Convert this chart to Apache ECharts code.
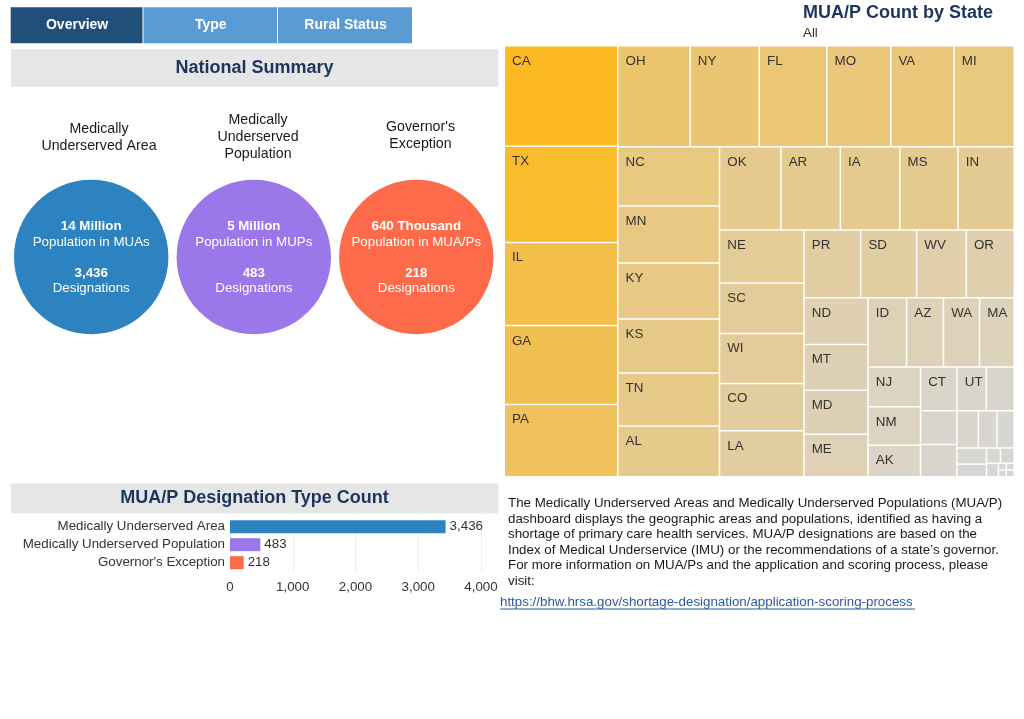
<!DOCTYPE html>
<html><head><meta charset="utf-8">
<script src="https://cdn.jsdelivr.net/npm/echarts@6/dist/echarts.min.js"></script>
<style>html,body{margin:0;padding:0;background:#fff}#c{width:1024px;height:719px}</style>
</head><body><div id="c"></div>
<script>
// ---------- data ----------
const tabs = ['Overview', 'Type', 'Rural Status'];
const summaryTitles = ['Medically\nUnderserved Area', 'Medically\nUnderserved\nPopulation', "Governor's\nException"];
const populationText = ['14 Million', '5 Million', '640 Thousand'];
const populationLabels = ['Population in MUAs', 'Population in MUPs', 'Population in MUA/Ps'];
const typeCategories = ['Medically Underserved Area', 'Medically Underserved Population', "Governor's Exception"];
const typeCounts = [3436, 483, 218];
const valueTicks = [0, 1000, 2000, 3000, 4000];
const stateNames = ['CA','TX','IL','GA','PA','OH','NY','FL','MO','VA','MI','NC','MN','KY','KS','TN','AL','OK','IA','AR','MS','IN','NE','SC','WI','CO','LA','PR','SD','WV','OR','ND','MT','MD','ME','ID','AZ','WA','MA','NJ','NM','AK','CT','UT',
  'HI','NV','NH','VT','WY','DE','DC','RI','GU','VI','MP','AS','FM','MH','PW'];
const stateCounts = [214,205,177,168,154,137,131,128,121,120,114,113,109,107,103,101,97,96,93,93,91,88,84,80,79,75,73,72,71,63,61,56,55,53,51,50,48,47,45,39,38,31,30,24,
  23,23,22,15,13,12,9,7,4,4,3,1,1,1,1];
const labeledStates = stateNames.slice(0, 44);
const descriptionLines = [
  'The Medically Underserved Areas and Medically Underserved Populations (MUA/P)',
  'dashboard displays the geographic areas and populations, identified as having a',
  'shortage of primary care health services. MUA/P designations are based on the',
  'Index of Medical Underservice (IMU) or the recommendations of a state\u2019s governor.',
  'For more information on MUA/Ps and the application and scoring process, please',
  'visit:'
];
const linkText = 'https://bhw.hrsa.gov/shortage-designation/application-scoring-process';

// ---------- styles ----------
const FONT = '"Liberation Sans", Arial, Helvetica, sans-serif';
const NAVY = '#1c355e';
const FS = 13.33;
const typeColors = ['#2d83c0', '#9b77e9', '#fd6b4a'];
const tabColors = ['#204f7a', '#5b9bd5', '#5b9bd5'];
const tabEdges = [10.7, 143.5, 278, 413];
const circleX = [91.2, 253.8, 416.3];
const titleX = [99, 258, 420.5];
const titleY = [138, 137, 136];
const treemapColors = ['#d7d6d4','#dad5ca','#ded0b3','#e3cc98','#e8c884','#ebc670','#f1c157','#f5bd42','#fdba22'];

const g = [];
// tabs
tabs.forEach((t, i) => {
  g.push({type:'rect', shape:{x:tabEdges[i], y:7.3, width:tabEdges[i+1]-tabEdges[i]-1, height:36}, style:{fill:tabColors[i]}});
  g.push({type:'text', style:{text:t, x:(tabEdges[i]+tabEdges[i+1])/2, y:25.5, textAlign:'center', textVerticalAlign:'middle', fill:'#fff', font:'bold 14px ' + FONT}});
});
// headers
g.push({type:'rect', shape:{x:11, y:49.3, width:487.5, height:37.4}, style:{fill:'#e6e6e6'}});
g.push({type:'text', style:{text:'National Summary', x:254.5, y:68.5, textAlign:'center', textVerticalAlign:'middle', fill:NAVY, font:'bold 18px ' + FONT}});
g.push({type:'rect', shape:{x:11, y:483.5, width:487.5, height:30}, style:{fill:'#e6e6e6'}});
g.push({type:'text', style:{text:'MUA/P Designation Type Count', x:254.5, y:498.5, textAlign:'center', textVerticalAlign:'middle', fill:NAVY, font:'bold 18px ' + FONT}});
g.push({type:'text', style:{text:'MUA/P Count by State', x:803, y:13.5, textAlign:'left', textVerticalAlign:'middle', fill:NAVY, font:'bold 18px ' + FONT}});
g.push({type:'text', style:{text:'All', x:803, y:33.5, textAlign:'left', textVerticalAlign:'middle', fill:'#333', font:FS + 'px ' + FONT}});
// summary circles
summaryTitles.forEach((t, i) => {
  g.push({type:'text', style:{text:t, x:titleX[i], y:titleY[i], textAlign:'center', textVerticalAlign:'middle', fill:'#1a1a1a', font:'14.2px ' + FONT, lineHeight:17}});
  g.push({type:'circle', shape:{cx:circleX[i], cy:257, r:77.2}, style:{fill:typeColors[i]}});
  g.push({type:'text', style:{text:populationText[i], x:circleX[i], y:226.7, textAlign:'center', textVerticalAlign:'middle', fill:'#fff', font:'bold ' + FS + 'px ' + FONT}});
  g.push({type:'text', style:{text:populationLabels[i], x:circleX[i], y:242, textAlign:'center', textVerticalAlign:'middle', fill:'#fff', font:FS + 'px ' + FONT}});
  g.push({type:'text', style:{text:typeCounts[i].toLocaleString('en-US'), x:circleX[i], y:273.3, textAlign:'center', textVerticalAlign:'middle', fill:'#fff', font:'bold ' + FS + 'px ' + FONT}});
  g.push({type:'text', style:{text:'Designations', x:circleX[i], y:288.5, textAlign:'center', textVerticalAlign:'middle', fill:'#fff', font:FS + 'px ' + FONT}});
});
// description
g.push({type:'text', style:{text:descriptionLines.join('\n'), x:508, y:495.5, textAlign:'left', textVerticalAlign:'top', fill:'#1a1a1a', font:FS + 'px ' + FONT, lineHeight:15.6}});
g.push({type:'text', style:{text:linkText, x:500, y:602, textAlign:'left', textVerticalAlign:'middle', fill:'#2c5aa0', font:FS + 'px ' + FONT}});
g.push({type:'line', shape:{x1:500, y1:609, x2:915, y2:609}, style:{stroke:'#2c5aa0', lineWidth:1}});

const chart = echarts.init(document.getElementById('c'), null, {renderer:'canvas'});
chart.setOption({
  animation:false,
  textStyle:{fontFamily:FONT},
  graphic:{elements:g},
  grid:{left:230, top:517.7, width:251, height:54, containLabel:false},
  xAxis:{type:'value', min:valueTicks[0], max:valueTicks[valueTicks.length-1], interval:valueTicks[1]-valueTicks[0],
    axisLine:{show:false}, axisTick:{show:false},
    splitLine:{show:true, lineStyle:{color:'#eeeeee', width:1}},
    axisLabel:{color:'#333', fontSize:FS, margin:9, formatter:v => v.toLocaleString('en-US')}},
  yAxis:{type:'category', data:typeCategories, inverse:true,
    axisLine:{show:false}, axisTick:{show:false},
    axisLabel:{color:'#333', fontSize:FS, margin:5}},
  series:[
    {type:'bar', barWidth:13, silent:true,
     data:typeCounts.map((v, i) => ({value:v, itemStyle:{color:typeColors[i]}})),
     label:{show:true, position:'right', distance:4, color:'#333', fontSize:FS, formatter:p => p.value.toLocaleString('en-US')}},
    {type:'treemap', left:505, top:46.5, width:508.5, height:429.5,
     roam:false, nodeClick:false, silent:true, breadcrumb:{show:false},
     levels:[
       {color:treemapColors, colorMappingBy:'value', itemStyle:{borderWidth:0, gapWidth:1.5, borderColor:'#fff'}},
       {itemStyle:{borderWidth:0, gapWidth:0}}
     ],
     label:{show:true, position:'insideTopLeft', distance:0, padding:[8,2,8,7], overflow:'none', color:'#333', fontSize:FS, fontFamily:FONT,
       formatter:p => labeledStates.indexOf(p.name) >= 0 ? p.name : ''},
     upperLabel:{show:false},
     data:stateNames.map((n, i) => ({name:n, value:stateCounts[i]}))}
  ]
});
</script></body></html>
